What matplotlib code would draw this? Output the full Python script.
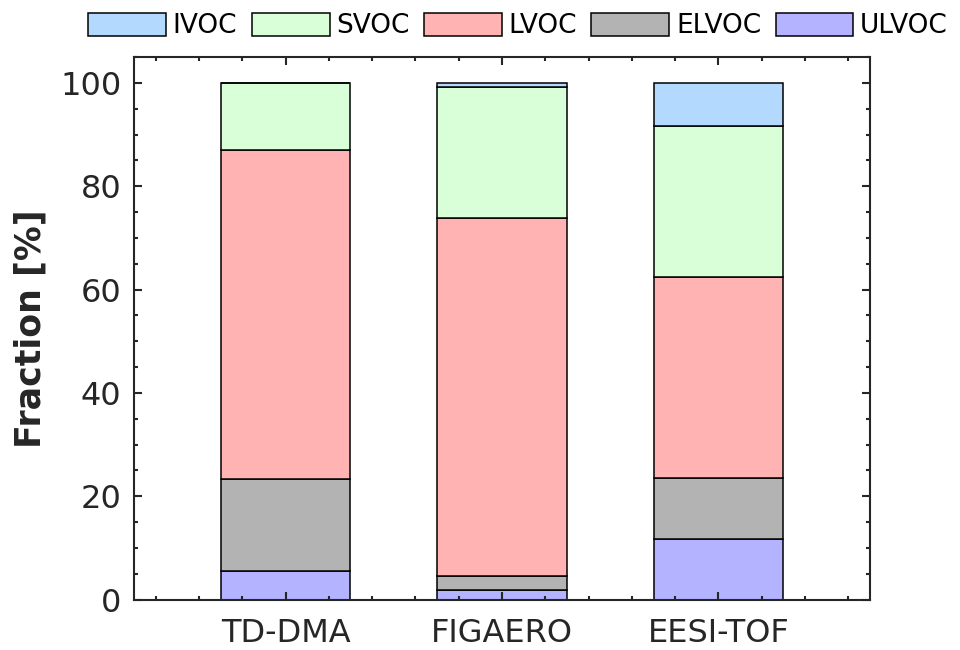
import matplotlib
matplotlib.use("Agg")
from matplotlib import pyplot as plt
from matplotlib.ticker import MultipleLocator
import numpy as np

# fractions in %
instruments = ["TD-DMA", "FIGAERO", "EESI-TOF"]
classes = ["IVOC", "SVOC", "LVOC", "ELVOC", "ULVOC"]

ulvoc = [5.5, 1.8, 11.7]
elvoc = [17.8, 2.8, 11.8]
lvoc = [63.7, 69.2, 39.0]
svoc = [13.0, 25.4, 29.2]
ivoc = [0.0, 0.8, 8.3]

colors = {"IVOC": "#b3d9ff", "SVOC": "#d9ffd9", "LVOC": "#ffb3b3",
          "ELVOC": "#b3b3b3", "ULVOC": "#b3b3ff"}

plt.rcParams['font.family'] = ['DejaVu Sans']
dark = "#262626"

fig = plt.figure(figsize=(9.6, 6.5), dpi=100)
ax = fig.add_axes([134 / 960, 1 - 599.5 / 650, 736 / 960, 542.5 / 650])

x = np.arange(1, len(instruments) + 1)
stack = [("ULVOC", ulvoc), ("ELVOC", elvoc), ("LVOC", lvoc), ("SVOC", svoc), ("IVOC", ivoc)]
bottom = np.zeros(len(x))
handles = {}
for name, vals in stack:
    vals = np.array(vals)
    b = ax.bar(x, vals, 0.6, bottom=bottom, color=colors[name],
               edgecolor="black", linewidth=1.1, label=name)
    handles[name] = b
    bottom = bottom + vals

ax.set_xlim(0.3, 3.7)
ax.set_ylim(0, 105)
ax.set_xticks(x)
ax.set_xticklabels(instruments)
ax.xaxis.set_minor_locator(MultipleLocator(0.2))
ax.yaxis.set_major_locator(MultipleLocator(20))
ax.yaxis.set_minor_locator(MultipleLocator(5))

ax.tick_params(which="both", direction="in", top=True, right=True,
               colors=dark, width=1.5, labelsize=23, labelcolor=dark)
ax.tick_params(which="major", length=5.5)
ax.tick_params(which="minor", length=3)
ax.tick_params(axis="x", pad=13)
ax.tick_params(axis="y", pad=9)
for s in ax.spines.values():
    s.set_color(dark)
    s.set_linewidth(1.5)

ax.set_ylabel("Fraction [%]", fontsize=25, fontweight="bold", color=dark, labelpad=9)

fig.legend([handles[c] for c in classes], classes, loc="center",
           bbox_to_anchor=(518 / 960, 1 - 26 / 650), ncol=5, frameon=False,
           fontsize=19, handlelength=2.95, handleheight=0.95, handletextpad=0.25,
           columnspacing=0.55, borderpad=0, borderaxespad=0)

fig.savefig("out.png", dpi=100)
